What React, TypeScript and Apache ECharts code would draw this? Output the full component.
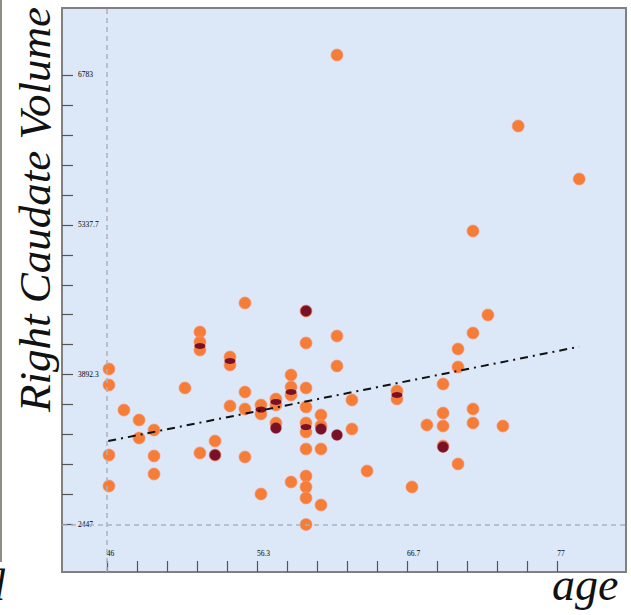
import React, { useEffect, useRef } from "react";
import * as echarts from "echarts";

// ---- data (age, right caudate volume) ----
const orangePoints: number[][] = [
  [46.15, 3947], [46.15, 3793], [46.15, 3117], [46.15, 2818],
  [47.18, 3551], [48.22, 3455], [48.22, 3281],
  [49.25, 3358], [49.25, 3108], [49.25, 2934],
  [51.38, 3764],
  [52.41, 4304], [52.41, 4207], [52.41, 4130], [52.41, 3137],
  [53.45, 3252], [53.45, 3117],
  [54.48, 4063], [54.48, 3986], [54.48, 3590],
  [55.51, 4584], [55.51, 3725], [55.51, 3561], [55.51, 3098],
  [56.61, 3600], [56.61, 3513], [56.61, 2741],
  [57.64, 3658], [57.64, 3600], [57.64, 3426],
  [58.68, 3889], [58.68, 3773], [58.68, 3696], [58.68, 2857],
  [59.71, 4506], [59.71, 4198], [59.71, 3764], [59.71, 3580], [59.71, 3426],
  [59.71, 3339], [59.71, 3175], [59.71, 2915], [59.71, 2809], [59.71, 2703], [59.71, 2447],
  [60.74, 3503], [60.74, 3400], [60.74, 3175], [60.74, 2635],
  [61.84, 6976], [61.84, 4265], [61.84, 3976],
  [62.87, 3648], [62.87, 3368],
  [63.91, 2963],
  [65.97, 3735], [65.97, 3658],
  [67.0, 2809],
  [68.03, 3407],
  [69.14, 3802], [69.14, 3522], [69.14, 3397], [69.14, 3204],
  [70.17, 4140], [70.17, 3966], [70.17, 3031],
  [71.2, 5278], [71.2, 4294], [71.2, 3561], [71.2, 3426],
  [72.23, 4468],
  [73.26, 3397],
  [74.31, 6291],
  [78.51, 5780],
];

const darkPoints: number[][] = [
  [59.71, 4506], [53.45, 3117], [57.64, 3378], [60.74, 3368], [61.84, 3310], [69.14, 3195],
];

const overlapPoints: number[][] = [
  [52.41, 4169], [54.48, 4024], [56.61, 3556], [57.64, 3629], [58.68, 3725], [59.71, 3387], [65.97, 3696],
];

const trendLine: number[][] = [[46.1, 3252], [78.5, 4162]];

const xLabelValues = [46, 56.3333, 66.6667, 77];
const xLabels = ["46", "56.3", "66.7", "77"];
const yLabelValues = [2447, 3892.3333, 5337.6667, 6783];
const yLabels = ["2447", "3892.3", "5337.7", "6783"];
const minLines = { age: 46, volume: 2447 };

function subTicks(vals: number[], n: number): number[] {
  const out: number[] = [];
  for (let i = 0; i < vals.length - 1; i++) {
    const step = (vals[i + 1] - vals[i]) / n;
    for (let k = 0; k < n; k++) out.push(vals[i] + k * step);
  }
  out.push(vals[vals.length - 1]);
  return out;
}

function labelFor(values: number[], labels: string[]) {
  return (v: number) => {
    let best = 0;
    for (let i = 1; i < values.length; i++) {
      if (Math.abs(values[i] - v) < Math.abs(values[best] - v)) best = i;
    }
    return Math.abs(values[best] - v) < 1e-3 * Math.max(1, Math.abs(v)) ? labels[best] : "";
  };
}

export default function App() {
  const ref = useRef<HTMLDivElement>(null);
  useEffect(() => {
    if (!ref.current) return;
    const chart = echarts.init(ref.current, null, { renderer: "svg" });
    const serif = '"Liberation Serif", "DejaVu Serif", serif';
    chart.setOption({
      animation: false,
      backgroundColor: "#ffffff",
      grid: {
        left: 62,
        top: 8,
        right: 5,
        bottom: 43,
        show: true,
        backgroundColor: "#dce7f7",
        borderColor: "#808080",
        borderWidth: 2,
      },
      xAxis: {
        type: "value",
        min: 42.917,
        max: 81.73,
        axisLine: { show: false },
        splitLine: { show: false },
        axisTick: {
          show: true,
          inside: true,
          length: 11,
          customValues: subTicks(xLabelValues, 5),
          lineStyle: { color: "#555", width: 1.2 },
        },
        axisLabel: {
          show: true,
          inside: true,
          margin: 15,
          align: "left",
          fontSize: 7.5,
          fontFamily: serif,
          color: "#000",
          customValues: xLabelValues,
          formatter: labelFor(xLabelValues, xLabels),
        },
      },
      yAxis: {
        type: "value",
        min: 1988.8,
        max: 7429.3,
        axisLine: { show: false },
        splitLine: { show: false },
        axisTick: {
          show: true,
          inside: true,
          length: 11,
          customValues: subTicks(yLabelValues, 5),
          lineStyle: { color: "#555", width: 1.2 },
        },
        axisLabel: {
          show: true,
          inside: true,
          margin: 16,
          fontSize: 7.5,
          fontFamily: serif,
          color: "#000",
          padding: [0, 0, 4, 0],
          customValues: yLabelValues,
          formatter: labelFor(yLabelValues, yLabels),
        },
      },
      series: [
        {
          type: "scatter",
          data: [],
          z: 1,
          markLine: {
            silent: true,
            symbol: ["none", "none"],
            label: { show: false },
            lineStyle: { type: [5, 4], color: "#aab2bd", width: 1.5 },
            data: [{ xAxis: minLines.age }, { yAxis: minLines.volume }],
          },
        },
        {
          type: "scatter",
          data: orangePoints,
          symbol: "circle",
          symbolSize: 12,
          z: 2,
          itemStyle: { color: "#f67d35", opacity: 1, borderColor: "rgba(246,150,130,0.8)", borderWidth: 0.8 },
        },
        {
          type: "scatter",
          data: darkPoints,
          symbol: "circle",
          symbolSize: 11,
          z: 3,
          itemStyle: { color: "#781028", opacity: 1, borderColor: "rgba(190,80,90,0.6)", borderWidth: 0.6 },
        },
        {
          type: "scatter",
          data: overlapPoints,
          symbol: "circle",
          symbolSize: [11, 6],
          z: 4,
          itemStyle: { color: "#781028", opacity: 1 },
        },
        {
          type: "line",
          data: trendLine,
          showSymbol: false,
          symbol: "none",
          z: 5,
          lineStyle: { color: "#111", width: 2, type: [8, 5, 2, 5] },
        },
      ],
      graphic: [
        {
          type: "text",
          x: 35,
          y: 412,
          rotation: Math.PI / 2,
          style: {
            text: "Right Caudate Volume",
            font: `italic 45px ${serif}`,
            fill: "#111",
            align: "left",
            verticalAlign: "middle",
          },
        },
        {
          type: "text",
          x: 552,
          y: 584,
          style: {
            text: "age",
            font: `italic 46px ${serif}`,
            fill: "#111",
            align: "left",
            verticalAlign: "middle",
          },
        },
        {
          type: "rect",
          shape: { x: 0, y: 0, width: 2, height: 562 },
          style: { fill: "#8e8e86" },
        },
        {
          type: "text",
          x: -17,
          y: 585,
          style: {
            text: "d",
            font: `italic 44px ${serif}`,
            fill: "#111",
            align: "left",
            verticalAlign: "middle",
          },
        },
      ],
    });
    return () => chart.dispose();
  }, []);
  return (
    <div
      ref={ref}
      style={{ position: "fixed", left: 0, top: 0, width: 631, height: 615, background: "#fff" }}
    />
  );
}
